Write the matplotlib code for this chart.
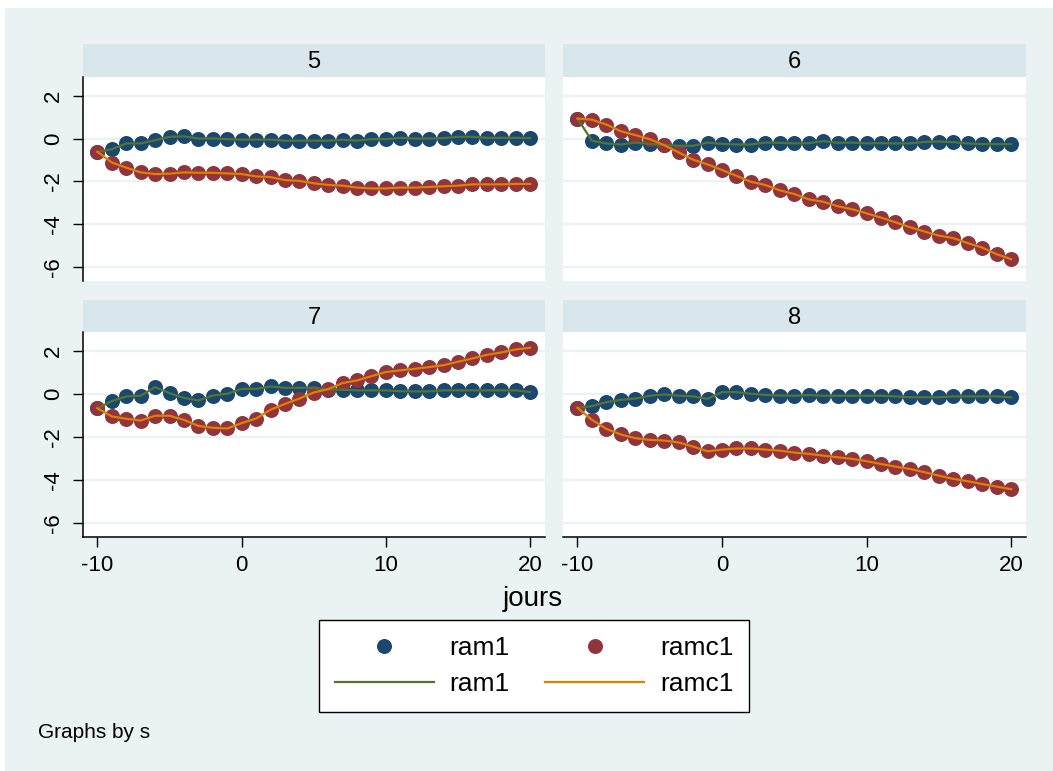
import matplotlib
matplotlib.use("Agg")
import matplotlib.pyplot as plt
from matplotlib.patches import Rectangle
from matplotlib.lines import Line2D

plt.rcParams['font.family'] = ['Liberation Sans', 'DejaVu Sans']

jours = list(range(-10, 21))
panels = ["5", "6", "7", "8"]

ram1_5 = [-0.62, -0.50, -0.23, -0.23, -0.08, 0.08, 0.10, 0.00, 0.00, -0.03, -0.05,
          -0.05, -0.05, -0.10, -0.10, -0.10, -0.10, -0.06, -0.10, -0.03, -0.03,
          0.03, 0.00, 0.00, 0.02, 0.08, 0.08, 0.03, 0.03, 0.03, 0.02]
ramc1_5 = [-0.62, -1.12, -1.36, -1.58, -1.66, -1.64, -1.58, -1.60, -1.60, -1.63, -1.66,
           -1.77, -1.80, -1.94, -1.98, -2.09, -2.17, -2.20, -2.29, -2.33, -2.33,
           -2.29, -2.29, -2.26, -2.23, -2.20, -2.14, -2.14, -2.14, -2.12, -2.12]

ram1_6 = [0.93, -0.10, -0.23, -0.28, -0.19, -0.25, -0.31, -0.34, -0.34, -0.19, -0.25,
          -0.28, -0.28, -0.19, -0.20, -0.23, -0.22, -0.12, -0.20, -0.19, -0.23,
          -0.22, -0.23, -0.23, -0.16, -0.14, -0.17, -0.23, -0.26, -0.26, -0.26]
ramc1_6 = [0.93, 0.88, 0.65, 0.34, 0.16, -0.03, -0.31, -0.65, -0.99, -1.21, -1.47,
           -1.74, -2.02, -2.17, -2.42, -2.59, -2.84, -2.95, -3.16, -3.30, -3.49,
           -3.69, -3.91, -4.14, -4.34, -4.53, -4.65, -4.88, -5.09, -5.40, -5.63]

ram1_7 = [-0.67, -0.34, -0.12, -0.09, 0.31, 0.03, -0.19, -0.31, -0.08, 0.00, 0.23,
          0.23, 0.34, 0.28, 0.28, 0.28, 0.19, 0.19, 0.16, 0.16, 0.16,
          0.12, 0.11, 0.11, 0.16, 0.16, 0.16, 0.16, 0.16, 0.16, 0.08]
ramc1_7 = [-0.67, -1.05, -1.16, -1.24, -1.02, -1.02, -1.21, -1.49, -1.58, -1.61, -1.36,
           -1.15, -0.74, -0.47, -0.22, 0.06, 0.22, 0.50, 0.62, 0.82, 1.01,
           1.09, 1.16, 1.24, 1.33, 1.49, 1.64, 1.81, 1.92, 2.06, 2.14]

ram1_8 = [-0.65, -0.57, -0.39, -0.28, -0.22, -0.09, -0.03, -0.09, -0.12, -0.23, 0.08,
          0.08, 0.00, -0.05, -0.08, -0.09, -0.06, -0.09, -0.09, -0.09, -0.09,
          -0.09, -0.12, -0.16, -0.16, -0.16, -0.12, -0.12, -0.12, -0.12, -0.16]
ramc1_8 = [-0.65, -1.21, -1.63, -1.89, -2.06, -2.14, -2.17, -2.26, -2.45, -2.67, -2.59,
           -2.54, -2.54, -2.59, -2.64, -2.73, -2.79, -2.87, -2.95, -3.02, -3.13,
           -3.26, -3.38, -3.49, -3.64, -3.80, -3.95, -4.06, -4.19, -4.31, -4.43]

ram1 = [ram1_5, ram1_6, ram1_7, ram1_8]
ramc1 = [ramc1_5, ramc1_6, ramc1_7, ramc1_8]

xticks = [-10, 0, 10, 20]
yticks = [-6, -4, -2, 0, 2]

NAVY = '#1a476f'
MAROON = '#90353b'
GREEN = '#55752f'
ORANGE = '#e37e00'
BG = '#eaf2f3'
STRIP = '#d9e6eb'

W, H = 1053, 771
fig = plt.figure(figsize=(W / 100, H / 100), dpi=100, facecolor='white')
fig.patches.append(Rectangle((5 / W, 0), 1 - 5 / W, 1 - 8 / H, transform=fig.transFigure,
                             facecolor=BG, edgecolor='none', zorder=-10))


def px_axes(x0, y0, x1, y1):
    return fig.add_axes([x0 / W, 1 - y1 / H, (x1 - x0) / W, (y1 - y0) / H])


cols = [(83, 545), (563, 1026)]
rows = [(44, 77, 281), (300, 332, 537)]
MS = 10.8

for i, name in enumerate(panels):
    r, c = divmod(i, 2)
    x0, x1 = cols[c]
    s0, p0, p1 = rows[r]
    # strip
    sax = px_axes(x0, s0, x1, p0)
    sax.set_facecolor(STRIP)
    sax.set_xticks([]); sax.set_yticks([])
    for sp in sax.spines.values():
        sp.set_visible(False)
    sax.text(0.5, 0.45, name, ha='center', va='center', fontsize=17, transform=sax.transAxes)

    ax = px_axes(x0, p0, x1, p1)
    ax.set_facecolor('white')
    ax.set_xlim(-11.0, 21.03)
    ax.set_ylim(-6.65, 2.87)
    for yv in yticks:
        ax.axhline(yv, color=BG, lw=1.6, zorder=0)
    for sp in ax.spines.values():
        sp.set_visible(False)
    ax.plot(jours, ram1[i], 'o', color=NAVY, ms=MS, mec='none', zorder=2)
    ax.plot(jours, ramc1[i], 'o', color=MAROON, ms=MS, mec='none', zorder=2)
    ax.plot(jours, ram1[i], '-', color=GREEN, lw=1.6, zorder=3)
    ax.plot(jours, ramc1[i], '-', color=ORANGE, lw=1.6, zorder=3)

    if c == 0:
        ax.spines['left'].set_visible(True)
        ax.spines['left'].set_linewidth(1.1)
        ax.set_yticks(yticks)
        ax.set_yticklabels([str(v) for v in yticks], rotation=90, va='center')
        ax.tick_params(axis='y', length=7.5, width=1, pad=6, labelsize=16)
    else:
        ax.set_yticks([])
    if r == 1:
        ax.spines['bottom'].set_visible(True)
        ax.spines['bottom'].set_linewidth(1.1)
        ax.set_xticks(xticks)
        ax.set_xticklabels([str(v) for v in xticks])
        ax.tick_params(axis='x', length=7, width=1, pad=6, labelsize=16)
    else:
        ax.set_xticks([])

fig.text(533 / W, 1 - 599 / H, 'jours', ha='center', va='center', fontsize=20)
fig.text(38 / W, 1 - 733 / H, 'Graphs by s', ha='left', va='center', fontsize=15)

handles = [
    Line2D([], [], ls='none', marker='o', color=NAVY, ms=MS, mec='none'),
    Line2D([], [], ls='-', color=GREEN, lw=1.6),
    Line2D([], [], ls='none', marker='o', color=MAROON, ms=MS, mec='none'),
    Line2D([], [], ls='-', color=ORANGE, lw=1.6),
]
labels = ['ram1', 'ram1', 'ramc1', 'ramc1']
leg = fig.legend(handles, labels, ncol=2, loc='center',
                 bbox_to_anchor=(534 / W, 1 - 666 / H),
                 fontsize=19, frameon=True, fancybox=False, edgecolor='black',
                 facecolor='white', framealpha=1.0,
                 handlelength=3.75, handletextpad=0.6, columnspacing=1.35,
                 labelspacing=0.45, borderpad=0.6, borderaxespad=0)
leg.get_frame().set_linewidth(1.0)

fig.savefig('out.png', dpi=100, facecolor='white')
